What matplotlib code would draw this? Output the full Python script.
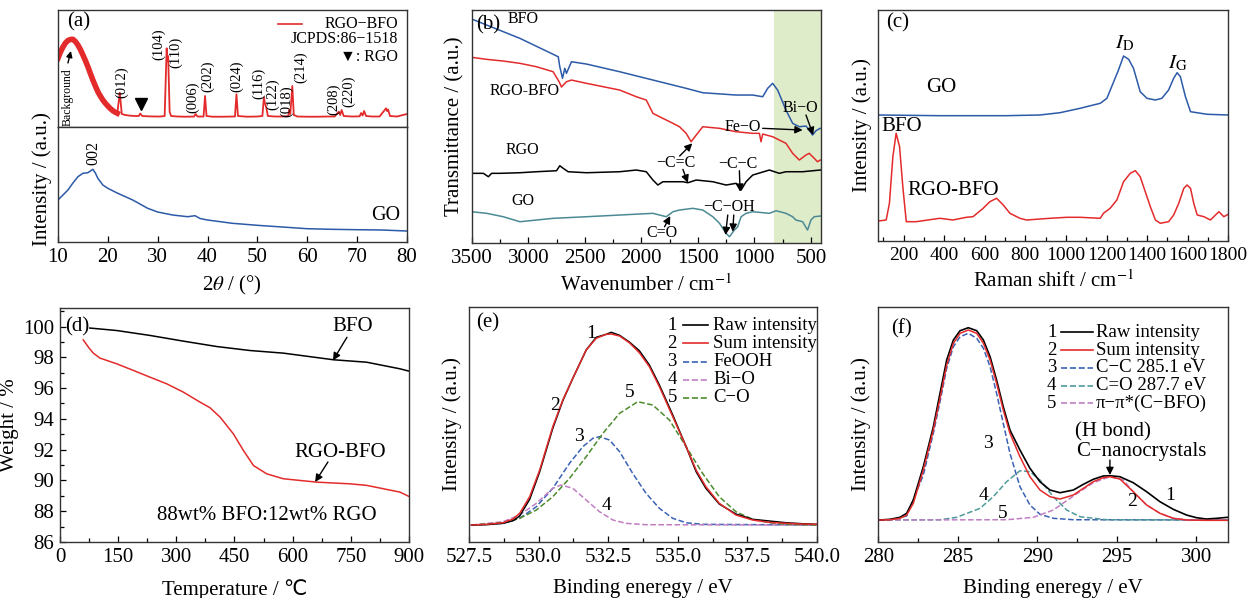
import matplotlib
matplotlib.use("Agg")
import matplotlib.pyplot as plt
from matplotlib.ticker import MultipleLocator, FormatStrFormatter

plt.rcParams['font.family'] = ['Liberation Serif', 'DejaVu Sans']
plt.rcParams['mathtext.fontset'] = 'stix'

RED = '#e32b2b'
BLUE = '#2c5aa8'
TEAL = '#4b8a94'

# ---------------- (a) XRD ----------------
xrd_2theta = [10, 10.5, 11, 11.5, 12, 12.5, 13, 13.5, 14, 14.5,
              15, 15.5, 16, 16.5, 17, 17.5, 18, 18.5, 19, 19.5,
              20, 20.5, 21, 21.5, 21.9, 22.4, 22.8, 23.5, 24.5, 25.5,
              26.2, 26.5, 26.9, 28, 29.5, 30.5, 31.4, 31.8, 31.95, 32.1,
              32.4, 32.7, 34, 35.5, 37.3, 37.6, 38, 39.2, 39.5, 39.8,
              41, 43, 45.5, 45.8, 46.1, 48, 50, 51.0, 51.3, 51.5,
              51.8, 52.1, 53.5, 55, 56.2, 56.4, 56.6, 57.0, 57.3, 58,
              60, 62, 64, 65.5, 66.3, 66.6, 66.9, 67.3, 69, 70.5,
              70.8, 71.1, 71.4, 71.8, 73, 74.5, 75.8, 76.0, 76.2, 76.6,
              78, 80]
xrd_rgo_bfo = [68.7, 75, 80, 84, 86.5, 87.5, 87.7, 85.5, 82, 77.5,
               72, 66.5, 60.3, 53.5, 47, 41, 35.3, 31, 27, 23.8,
               21, 18.5, 16.3, 14.8, 13.8, 34.3, 13, 12, 11.3, 11,
               11, 13.5, 11, 10.7, 10.5, 10.5, 11, 78.7, 66, 71,
               15, 11, 10.5, 10.3, 10.5, 13, 10.5, 10.5, 31, 11,
               10.3, 10.3, 10.5, 32.7, 11, 10.3, 10.5, 11, 29.7, 24,
               19, 11, 10.5, 10.5, 11, 17, 13, 41, 12, 10.5,
               10.3, 10.3, 10.5, 10.5, 15.3, 12, 17, 11, 10.5, 10.7,
               14, 11.5, 16, 11, 10.5, 10.5, 18.7, 16, 17.5, 11,
               10.5, 13]
xrd_go_2theta = [10, 11, 12, 13, 14, 15, 16, 17, 17.5, 18, 19, 20, 22, 25, 28,
                 30, 33, 36, 37.5, 38.5, 40, 45, 50, 55, 60, 65, 70, 75, 80]
xrd_go = [42, 47, 52, 59, 65.3, 68.7, 69.3, 72.7, 69, 63.7, 57, 53.7, 48.7, 42, 33.7,
          30, 27, 25.3, 26.3, 23.5, 22, 18.7, 16.7, 15, 13.3, 12.7, 12.3, 12, 11]
hkl_labels = ['(012)', '(104)', '(110)', '(006)', '(202)', '(024)', '(116)',
              '(122)', '(018)', '(214)', '(208)', '(220)']
hkl_pos = [22.7, 30.25, 33.7, 37.1, 40.1, 45.8, 50.2, 53.0, 55.8, 58.6, 65.3, 68.2]
hkl_base = [28.7, 67, 58.7, 13.7, 35.3, 35.3, 27.7, 17, 10.3, 43.7, 12, 20.3]

# ---------------- (b) FTIR ----------------
ftir_bfo_w = [3500, 3074, 2735, 2721, 2697, 2677, 2662, 2618, 2485, 2191,
              1897, 1603, 1456, 1161, 1014, 926, 882, 838, 794, 720,
              661, 602, 543, 514, 485, 455, 417]
ftir_bfo = [224, 204.7, 186.3, 176.3, 164.7, 174.7, 169.7, 181.3, 179, 171.3,
            163, 154.7, 150.3, 148, 148, 146.3, 154.7, 159.7, 153, 133,
            119.7, 116.3, 117, 113, 108, 112.3, 114.7]
ftir_rgo_bfo_w = [3500, 3368, 3221, 3074, 2927, 2780, 2727, 2706, 2691, 2662,
                  2618, 2485, 2191, 2044, 1956, 1897, 1838, 1779, 1720, 1662,
                  1603, 1559, 1514, 1456, 1308, 1161, 1014, 955, 941, 926,
                  838, 720, 661, 602, 543, 514, 470, 441, 417]
ftir_rgo_bfo = [185.7, 183.7, 182, 179.7, 176.3, 171.3, 161.3, 156, 158, 161.3,
                163, 159.7, 153, 146.3, 143, 129.7, 126.3, 123, 119.7, 116.3,
                109.7, 101.3, 108, 116.3, 114.7, 111.3, 109.7, 109.7, 101.3, 109,
                106.3, 99.7, 89.7, 83, 88, 89.7, 84.7, 81.3, 83]
ftir_rgo_w = [3500, 3397, 3353, 3324, 3250, 3074, 2927, 2750, 2721, 2691,
              2647, 2485, 2191, 2044, 1956, 1897, 1853, 1809, 1720, 1632,
              1588, 1514, 1367, 1250, 1161, 1117, 1073, 1014, 867, 779,
              720, 573, 417]
ftir_rgo = [69.7, 69.7, 66.3, 69.7, 69.7, 70.3, 71.3, 72.3, 77.3, 74.7,
            71.3, 70.3, 71.3, 73, 71.3, 63, 58, 61.3, 61.3, 61.3,
            60.3, 63, 61.3, 58, 59.7, 53, 61.3, 68, 73, 69.7,
            71.3, 71.3, 73]
ftir_go_w = [3500, 3368, 3221, 3074, 2927, 2780, 2485, 2191, 1897, 1779,
             1720, 1662, 1544, 1456, 1367, 1308, 1250, 1220, 1176, 1147,
             1117, 1073, 1014, 867, 808, 720, 661, 632, 573, 529,
             499, 470, 417]
ftir_go = [31.3, 29.7, 26.3, 21.3, 23, 24.7, 26.3, 28, 29.7, 26.3,
           31.3, 33, 34.7, 33, 26.3, 19.7, 9.7, 6.3, 13, 16.3,
           26.3, 29.7, 31.3, 29.7, 32.3, 29.7, 26.3, 23, 21.3, 13,
           23, 26.3, 27]
ftir_shade_start = 830

# ---------------- (c) Raman ----------------
raman_go_r = [76, 378, 707, 872, 971, 1070, 1169, 1202, 1259, 1284,
              1309, 1333, 1366, 1399, 1441, 1473, 1506, 1531, 1548, 1564,
              1589, 1614, 1696, 1800]
raman_go = [126, 125.3, 125.3, 126, 128.3, 132.7, 137.7, 142.7, 171, 185,
            181.7, 172.7, 149.3, 142.7, 141, 142.7, 151, 162.7, 168.3, 164.3,
            144.3, 129.3, 126.7, 126]
raman_rb_r = [76, 114, 130, 147, 163, 180, 196, 213, 262, 378,
              443, 509, 542, 592, 625, 658, 691, 724, 773, 806,
              921, 1004, 1070, 1169, 1185, 1218, 1251, 1284, 1317, 1342,
              1366, 1391, 1416, 1441, 1465, 1506, 1531, 1556, 1581, 1597,
              1614, 1630, 1647, 1680, 1712, 1754, 1778, 1800]
raman_rb = [20, 21, 37.7, 84.3, 107.7, 94.3, 54.3, 19.3, 19.3, 22.7,
            21, 23.7, 24.3, 32.7, 39.3, 42.7, 36, 27.7, 22.7, 21,
            22.7, 23.7, 23.7, 22.7, 27.7, 32.7, 41, 59.3, 67.7, 70.3,
            64.3, 49.3, 34.3, 21, 17.7, 19.3, 26, 37.7, 52.7, 56,
            52.7, 37.7, 26, 24.3, 21, 29.3, 24.3, 26.7]

# ---------------- (d) TGA ----------------
tga_bfo_t = [77, 146, 232, 318, 404, 490, 576, 705, 791, 877, 900]
tga_bfo = [99.9, 99.74, 99.42, 99.05, 98.7, 98.44, 98.27, 97.84, 97.68, 97.25, 97.1]
tga_rb_t = [60, 75, 86, 103, 146, 189, 232, 275, 318, 361, 387,
            413, 447, 473, 499, 533, 576, 662, 748, 791, 877, 900]
tga_rb = [99.13, 98.6, 98.27, 97.95, 97.58, 97.15, 96.71, 96.28, 95.74, 95.09, 94.72,
          94.11, 93.03, 91.95, 90.97, 90.43, 90.11, 89.89, 89.78, 89.68, 89.24, 88.96]

# ---------------- (e) XPS O1s ----------------
o1s_e = [527.59, 528.12, 528.72, 529.08, 529.32, 529.68, 530.04, 530.51, 530.87, 531.23,
         531.71, 532.07, 532.43, 532.61, 532.91, 533.26, 533.62, 533.98, 534.34, 534.82,
         535.3, 535.66, 536.01, 536.49, 537.09, 537.69, 538.29, 538.88, 539.48, 539.98]
o1s_raw = [17, 17.3, 18.7, 21.3, 26, 42.7, 70.3, 113.7, 141.3, 163.7,
           192, 204.7, 207.7, 209.7, 206.7, 200, 191.3, 177, 157, 127,
           95.3, 70.3, 53.7, 38, 28, 22.7, 21, 19.3, 18.3, 17.7]
o1s_sum = [17, 17.7, 19.3, 23, 28.7, 45.3, 72, 115.3, 142, 163.7,
           192, 203.7, 207.7, 208, 206, 199.3, 189.3, 175.3, 155.3, 125.3,
           95.3, 72, 55.3, 38.7, 27, 22, 19.7, 18.7, 18, 17.7]
feooh_e = [527.59, 528.72, 529.32, 529.92, 530.51, 531.11, 531.59, 531.95, 532.19,
           532.55, 532.91, 533.38, 533.86, 534.34, 534.82, 535.3, 535.89, 539.98]
feooh = [17, 18.7, 23.7, 35.3, 53.7, 78.7, 95.3, 103.7, 105.3,
         102, 90.3, 68.7, 48.7, 33.7, 23.7, 19.3, 17.7, 17]
bio_e = [527.59, 528.72, 529.32, 529.92, 530.51, 530.81, 531.23, 531.71, 532.19,
         532.67, 533.14, 533.86, 539.98]
bio = [17, 20.3, 27, 38.7, 53.7, 57, 53.7, 42, 30.3, 22, 18.7, 17.3, 17]
co_e = [527.59, 528.72, 529.32, 529.92, 530.51, 531.11, 531.71, 532.31, 532.91, 533.56,
        534.1, 534.7, 535.3, 535.89, 536.49, 537.09, 537.69, 538.29, 538.88, 539.98]
co = [17, 19.3, 23.7, 32, 45.3, 63.7, 85.3, 108.7, 128.7, 140.3,
      137, 122, 95.3, 68.7, 45.3, 30.3, 22.7, 19.3, 17.7, 17]
o1s_names = ['Raw intensity', 'Sum intensity', 'FeOOH', 'Bi\u2212O', 'C\u2212O']

# ---------------- (f) XPS C1s ----------------
c1s_raw_e = [280.04, 280.74, 281.36, 281.78, 282.2, 282.83, 283.46, 283.88, 284.3, 284.72,
             285.14, 285.66, 286.19, 286.61, 287.03, 287.44, 287.86, 288.28, 288.91, 289.54,
             290.17, 290.8, 291.43, 292.27, 292.9, 293.52, 294.15, 294.57, 295.2, 296.04,
             296.88, 297.72, 298.56, 299.39, 300.02, 300.65, 301.28, 301.97]
c1s_raw = [22, 22.7, 24.7, 28.7, 42, 75.3, 115.3, 148.7, 182, 202,
           211.3, 214.3, 211.3, 202, 185.3, 162, 135.3, 112, 92, 73.7,
           60.3, 52, 49.3, 52, 57.7, 62.7, 66, 66.3, 65.3, 59.3,
           50.3, 40.3, 32.7, 27, 24.3, 23, 23.7, 24.7]
c1s_sum_e = [280.04, 280.74, 281.36, 281.78, 282.2, 282.83, 283.46, 283.88, 284.3, 284.72,
             285.14, 285.66, 286.19, 286.61, 287.03, 287.44, 287.86, 288.28, 288.91, 289.54,
             290.17, 290.8, 291.43, 292.27, 292.9, 293.52, 294.15, 294.57, 295.2, 296.04,
             296.88, 297.72, 298.56, 299.39, 300.65, 301.97]
c1s_sum = [22, 22.3, 23.7, 27, 38.7, 72, 112, 143.7, 177, 198.7,
           208.7, 212, 208.7, 198.7, 182, 158.7, 132, 108.7, 85.3, 65.3,
           52, 45.3, 43, 47, 53.7, 60.3, 64.3, 65.3, 63, 50.3,
           37, 28.7, 23.7, 22, 21.7, 21.7]
cc_e = [280.04, 280.74, 281.78, 282.83, 283.46, 283.88, 284.3, 284.72, 285.14, 285.66,
        286.19, 286.61, 287.03, 287.44, 287.86, 288.28, 288.91, 289.54, 290.17, 291.01,
        292.27, 301.97]
cc = [22, 22.3, 26, 67, 108.7, 140.3, 173.7, 195.3, 205.3, 208.7,
      203.7, 193.7, 175.3, 148.7, 118.7, 88.7, 55.3, 37, 27.7, 23.7,
      22.3, 22]
c_o_e = [280.04, 283.88, 284.93, 286.4, 287.23, 288.07, 288.91, 289.54, 290.17, 291.01,
         291.85, 292.69, 294.36, 301.97]
c_o = [22, 22.3, 24.7, 33.7, 45.3, 60.3, 71.3, 70.3, 62, 45.3, 32, 25.3, 22.3, 22]
pi_e = [280.04, 288.07, 289.75, 291.01, 292.27, 293.52, 294.57, 295.41, 296.04, 296.88,
        297.72, 298.56, 299.6, 301.97]
pi = [22, 22.3, 24.7, 32, 46, 59.3, 65.3, 62, 50.3, 37, 28.7, 23.7, 22, 22]
c1s_names = ['Raw intensity', 'Sum intensity', 'C\u2212C 285.1 eV', 'C=O 287.7 eV',
             '\u03c0\u2212\u03c0*(C\u2212BFO)']

FS = 15     # tick labels and axis titles
TXT = 15    # in-plot sample names
SMALL = 11.5


def style(ax, yticks=False, labelsize=FS):
    ax.tick_params(which='both', direction='in', top=False, right=False,
                   labelsize=labelsize, pad=4)
    ax.tick_params(which='major', length=4.5, width=0.9)
    ax.tick_params(which='minor', length=3, width=0.9)
    for s in ax.spines.values():
        s.set_linewidth(1.0)
        s.set_color('#333333')
    if not yticks:
        ax.set_yticks([])


def arrow(ax, tip, start, lw=1.0, ms=11):
    ax.annotate('', xy=tip, xytext=start,
                arrowprops=dict(arrowstyle='-|>', color='k', lw=lw,
                                mutation_scale=ms, shrinkA=0, shrinkB=0))


def legend_rows(ax, names, colors, styles, y0, step, xs):
    # numbered legend: "1 ---- Raw intensity"
    for i, (n, c, ls) in enumerate(zip(names, colors, styles)):
        y = y0 - i * step
        ax.text(xs[0], y, str(i + 1), transform=ax.transAxes, fontsize=13.5,
                ha='center', va='center')
        ax.plot([xs[1], xs[2]], [y, y], transform=ax.transAxes, color=c,
                ls=ls, lw=1.2)
        ax.text(xs[3], y, n, transform=ax.transAxes, fontsize=13.5,
                ha='left', va='center')


fig = plt.figure(figsize=(12.6, 5.98), dpi=100)

# ---- (a)
ax_a1 = fig.add_axes([0.046, 0.7876, 0.277, 0.1957])
ax_a2 = fig.add_axes([0.046, 0.5953, 0.277, 0.1923])
hump = [i for i, x in enumerate(xrd_2theta) if x <= 22]
ax_a1.plot(xrd_2theta, xrd_rgo_bfo, color=RED, lw=1.3)
ax_a1.plot([xrd_2theta[i] for i in hump], [xrd_rgo_bfo[i] for i in hump],
           color=RED, lw=4)
ax_a1.set_xlim(10, 80)
ax_a1.set_ylim(0, 117)
style(ax_a1)
ax_a1.tick_params(bottom=False, labelbottom=False)
for lab, x, b in zip(hkl_labels, hkl_pos, hkl_base):
    ax_a1.text(x, b, lab, rotation=90, ha='center', va='bottom', fontsize=10.5)
ax_a1.plot([26.7], [23], marker='v', color='k', ms=8, ls='none')
ax_a1.text(11.9, 1.5, 'Background', rotation=90, ha='center', va='bottom', fontsize=8.5)
arrow(ax_a1, (12.6, 76), (12.0, 64), ms=9)
ax_a1.text(0.026, 0.9, '(a)', transform=ax_a1.transAxes, fontsize=FS, va='center')
ax_a1.plot([0.63, 0.70], [0.88, 0.88], transform=ax_a1.transAxes, color=RED, lw=1.2)
ax_a1.text(0.974, 0.88, 'RGO\u2212BFO', transform=ax_a1.transAxes, ha='right',
           va='center', fontsize=SMALL)
ax_a1.text(0.974, 0.752, 'JCPDS:86\u22121518', transform=ax_a1.transAxes, ha='right',
           va='center', fontsize=SMALL)
ax_a1.text(0.974, 0.598, '\u25bc: RGO', transform=ax_a1.transAxes, ha='right',
           va='center', fontsize=SMALL)

ax_a2.plot(xrd_go_2theta, xrd_go, color=BLUE, lw=1.1)
ax_a2.set_xlim(10, 80)
ax_a2.set_ylim(0, 115)
style(ax_a2)
ax_a2.xaxis.set_major_locator(MultipleLocator(10))
ax_a2.text(17.2, 77, '002', rotation=90, ha='center', va='bottom', fontsize=SMALL)
ax_a2.text(75.8, 27, 'GO', ha='center', va='center', fontsize=14.5)
ax_a2.set_xlabel('2$\\theta$ / (\u00b0)', fontsize=FS, labelpad=5)
fig.text(0.0335, 0.7, 'Intensity / (a.u.)', rotation=90, ha='center',
         va='center', fontsize=FS)

# ---- (b)
ax_b = fig.add_axes([0.3744, 0.5936, 0.2772, 0.3896])
ax_b.axvspan(ftir_shade_start, 410, color='#dfecc9', lw=0, zorder=0)
ax_b.plot(ftir_bfo_w, ftir_bfo, color=BLUE, lw=1.1)
ax_b.plot(ftir_rgo_bfo_w, ftir_rgo_bfo, color=RED, lw=1.1)
ax_b.plot(ftir_rgo_w, ftir_rgo, color='k', lw=1.1)
ax_b.plot(ftir_go_w, ftir_go, color=TEAL, lw=1.1)
ax_b.set_xlim(3500, 410)
ax_b.set_ylim(0, 233)
style(ax_b)
ax_b.xaxis.set_major_locator(MultipleLocator(500))
ax_b.xaxis.set_minor_locator(MultipleLocator(250))
ax_b.set_xlabel('Wavenumber / cm$^{-1}$', fontsize=FS, labelpad=5)
ax_b.set_ylabel('Transmittance / (a.u.)', fontsize=FS, labelpad=5)
ax_b.text(3356, 218, '(b)', fontsize=FS, ha='center', va='center')
ax_b.text(3047, 224, 'BFO', fontsize=SMALL, ha='center', va='center')
ax_b.text(3029, 152, 'RGO-BFO', fontsize=SMALL, ha='center', va='center')
ax_b.text(3056, 93, 'RGO', fontsize=SMALL, ha='center', va='center')
ax_b.text(3047, 42, 'GO', fontsize=SMALL, ha='center', va='center')
ax_b.text(1103, 115.7, 'Fe\u2212O', fontsize=SMALL, ha='center', va='center')
arrow(ax_b, (573, 113), (926, 114.7))
ax_b.text(588, 134.7, 'Bi\u2212O', fontsize=SMALL, ha='center', va='center')
arrow(ax_b, (479, 108), (543, 128))
ax_b.text(1691, 79.7, '\u2212C=C', fontsize=SMALL, ha='center', va='center')
arrow(ax_b, (1549, 99.7), (1661, 87))
arrow(ax_b, (1588, 60.3), (1632, 73.7))
ax_b.text(1147, 79, '\u2212C\u2212C', fontsize=SMALL, ha='center', va='center')
arrow(ax_b, (1126, 51.3), (1132, 72.3))
ax_b.text(1220, 35.7, '\u2212C\u2212OH', fontsize=SMALL, ha='center', va='center')
arrow(ax_b, (1255, 8), (1235, 28))
arrow(ax_b, (1191, 11.3), (1182, 28))
ax_b.text(1814, 9.7, 'C=O', fontsize=SMALL, ha='center', va='center')
arrow(ax_b, (1744, 27), (1794, 16.3))

# ---- (c)
ax_c = fig.add_axes([0.6972, 0.597, 0.2776, 0.3863])
ax_c.plot(raman_go_r, raman_go, color=BLUE, lw=1.1)
ax_c.plot(raman_rb_r, raman_rb, color=RED, lw=1.1)
ax_c.set_xlim(76, 1800)
ax_c.set_ylim(0, 231)
style(ax_c, labelsize=14)
ax_c.xaxis.set_major_locator(MultipleLocator(200))
ax_c.xaxis.set_minor_locator(MultipleLocator(100))
ax_c.set_xlabel('Raman shift / cm$^{-1}$', fontsize=FS, labelpad=5)
ax_c.set_ylabel('Intensity / (a.u.)', fontsize=FS, labelpad=5)
ax_c.text(170, 218, '(c)', fontsize=FS, ha='center', va='center')
ax_c.text(387, 153, 'GO', fontsize=TXT, ha='center', va='center')
ax_c.text(190, 114, 'BFO', fontsize=TXT, ha='center', va='center')
ax_c.text(442, 50, 'RGO-BFO', fontsize=TXT, ha='center', va='center')
ax_c.text(1291, 198, '$I_\\mathrm{D}$', fontsize=TXT, ha='center', va='center')
ax_c.text(1553, 178, '$I_\\mathrm{G}$', fontsize=TXT, ha='center', va='center')

# ---- (d)
ax_d = fig.add_axes([0.0476, 0.0936, 0.277, 0.3913])
ax_d.plot(tga_bfo_t, tga_bfo, color='k', lw=1.1)
ax_d.plot(tga_rb_t, tga_rb, color=RED, lw=1.1)
ax_d.set_xlim(0, 900)
ax_d.set_ylim(86, 101.2)
style(ax_d, yticks=True)
ax_d.xaxis.set_major_locator(MultipleLocator(150))
ax_d.xaxis.set_minor_locator(MultipleLocator(75))
ax_d.yaxis.set_major_locator(MultipleLocator(2))
ax_d.yaxis.set_minor_locator(MultipleLocator(1))
ax_d.set_xlabel('Temperature / \u2103', fontsize=FS, labelpad=9)
ax_d.set_ylabel('Weight / %', fontsize=FS)
ax_d.yaxis.set_label_coords(-0.118, 0.5)
ax_d.text(44, 100, '(d)', fontsize=FS, ha='center', va='center')
ax_d.text(756, 100, 'BFO', fontsize=TXT, ha='center', va='center')
arrow(ax_d, (704, 97.8), (740, 99.3))
ax_d.text(722, 91.8, 'RGO-BFO', fontsize=TXT, ha='center', va='center')
arrow(ax_d, (658, 89.9), (691, 91.2))
ax_d.text(533, 87.7, '88wt% BFO:12wt% RGO', fontsize=TXT, ha='center', va='center')

# ---- (e)
ax_e = fig.add_axes([0.3722, 0.0936, 0.2762, 0.393])
ax_e.plot(feooh_e, feooh, color='#3b62b4', ls='--', lw=1.1)
ax_e.plot(bio_e, bio, color='#c07fc2', ls='--', lw=1.1)
ax_e.plot(co_e, co, color='#4c8c2e', ls='--', lw=1.1)
ax_e.plot(o1s_e, o1s_raw, color='k', lw=1.1)
ax_e.plot(o1s_e, o1s_sum, color=RED, lw=1.1)
ax_e.set_xlim(527.5, 540)
ax_e.set_ylim(0, 235)
style(ax_e)
ax_e.xaxis.set_major_locator(MultipleLocator(2.5))
ax_e.xaxis.set_minor_locator(MultipleLocator(1.25))
ax_e.xaxis.set_major_formatter(FormatStrFormatter('%.1f'))
ax_e.set_xlabel('Binding eneregy / eV', fontsize=FS, labelpad=9)
ax_e.set_ylabel('Intensity / (a.u.)', fontsize=FS, labelpad=5)
ax_e.text(528.17, 219, '(e)', fontsize=FS, ha='center', va='center')
for t, x, y in zip(['1', '2', '3', '4', '5'],
                   [531.89, 530.61, 531.45, 532.43, 533.26],
                   [208.7, 137, 106, 37, 149.3]):
    ax_e.text(x, y, t, fontsize=14, ha='center', va='center')
legend_rows(ax_e, o1s_names, ['k', RED, '#3b62b4', '#c07fc2', '#4c8c2e'],
            ['-', '-', '--', '--', '--'], 0.923, 0.0775,
            [0.584, 0.615, 0.688, 0.702])

# ---- (f)
ax_f = fig.add_axes([0.6971, 0.0936, 0.2775, 0.393])
ax_f.plot(cc_e, cc, color='#3b62b4', ls='--', lw=1.1)
ax_f.plot(c_o_e, c_o, color='#4f9a9a', ls='--', lw=1.1)
ax_f.plot(pi_e, pi, color='#c07fc2', ls='--', lw=1.1)
ax_f.plot(c1s_raw_e, c1s_raw, color='k', lw=1.2)
ax_f.plot(c1s_sum_e, c1s_sum, color=RED, lw=1.1)
ax_f.set_xlim(280, 302)
ax_f.set_ylim(0, 235)
style(ax_f)
ax_f.xaxis.set_major_locator(MultipleLocator(5))
ax_f.xaxis.set_minor_locator(MultipleLocator(2.5))
ax_f.set_xlabel('Binding eneregy / eV', fontsize=FS, labelpad=9)
ax_f.set_ylabel('Intensity / (a.u.)', fontsize=FS, labelpad=5)
ax_f.text(281.47, 213.7, '(f)', fontsize=FS, ha='center', va='center')
for t, x, y in zip(['3', '4', '5', '1', '2'],
                   [286.92, 286.6, 287.8, 298.35, 295.94],
                   [98.7, 47, 28.7, 47, 40.3]):
    ax_f.text(x, y, t, fontsize=14, ha='center', va='center')
ax_f.text(294.78, 110.3, '(H bond)', fontsize=TXT, ha='center', va='center')
ax_f.text(296.56, 90.3, 'C\u2212nanocrystals', fontsize=TXT, ha='center', va='center')
arrow(ax_f, (294.57, 67), (294.57, 82))
legend_rows(ax_f, c1s_names, ['k', RED, '#3b62b4', '#4f9a9a', '#c07fc2'],
            ['-', '-', '--', '--', '--'], 0.892, 0.0755,
            [0.496, 0.522, 0.615, 0.622])

fig.savefig('out.png', dpi=100)
